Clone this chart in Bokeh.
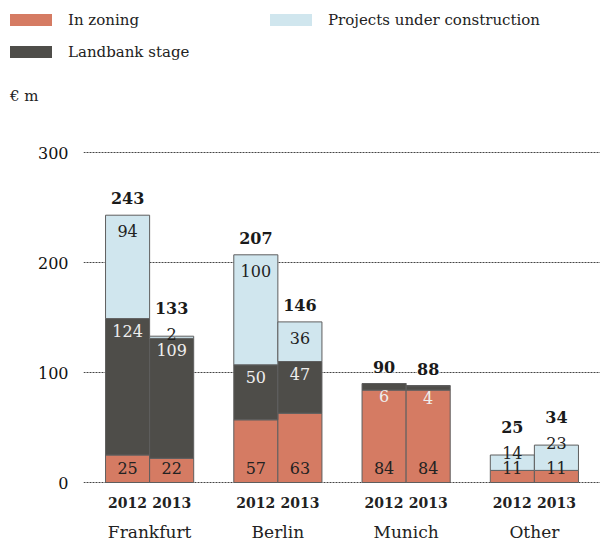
from bokeh.plotting import figure
from bokeh.layouts import column
from bokeh.models import (ColumnDataSource, FactorRange, Range1d, FixedTicker,
                          LabelSet, Div)
from bokeh.core.properties import value
from bokeh.embed import file_html
from bokeh.resources import INLINE

# ---------------- data ----------------
cities = ["Frankfurt", "Berlin", "Munich", "Other"]
years = ["2012", "2013"]
in_zoning = [25, 22, 57, 63, 84, 84, 11, 11]
landbank = [124, 109, 50, 47, 6, 4, 0, 0]
projects = [94, 2, 100, 36, 0, 0, 14, 23]
totals = [243, 133, 207, 146, 90, 88, 25, 34]
y_ticks = [0, 100, 200, 300]
series_names = ["In zoning", "Landbank stage", "Projects under construction"]
unit_label = "€ m"

# ---------------- style ----------------
colors = ["#D57B63", "#4E4D49", "#D0E6EE"]
FONT = "DejaVu Serif"
TXT = "#222222"
PX_PER_UNIT = 1.1
TOP_H = 130
FRAME_H = 355
FRAME_W = 517
LEFT = 83
y0 = -3 / PX_PER_UNIT
y1 = y0 + FRAME_H / PX_PER_UNIT

factors = [(c, yr) for c in cities for yr in years]
src = ColumnDataSource(dict(x=factors, zoning=in_zoning, landbank=landbank,
                            projects=projects))

x_range = FactorRange(*factors, factor_padding=0.0, group_padding=0.91,
                      range_padding=0.5, range_padding_units="absolute")

p = figure(x_range=x_range, y_range=Range1d(y0, y1),
           frame_width=FRAME_W, frame_height=FRAME_H,
           min_border_left=LEFT, min_border_right=0, min_border_top=0,
           min_border_bottom=0, output_backend="svg", toolbar_location=None,
           background_fill_color="white", border_fill_color="white")
p.outline_line_color = None

rs = p.vbar_stack(["zoning", "landbank", "projects"], x="x", width=1.0,
                  source=src, fill_color=colors, line_color="#5e5e5e",
                  line_width=1)

# ---------------- axes / grid ----------------
p.yaxis.ticker = FixedTicker(ticks=y_ticks)
p.yaxis.axis_line_color = None
p.yaxis.major_tick_line_color = None
p.yaxis.minor_tick_line_color = None
p.yaxis.major_tick_out = 0
p.yaxis.major_tick_in = 0
p.yaxis.major_label_standoff = 15
p.yaxis.major_label_text_font = FONT
p.yaxis.major_label_text_font_size = "16px"
p.yaxis.major_label_text_color = "#111111"

p.ygrid.grid_line_color = "#444444"
p.ygrid.grid_line_dash = "2 1"
p.ygrid.grid_line_width = 1
p.xgrid.grid_line_color = None

p.xaxis.axis_line_color = None
p.xaxis.major_tick_line_color = None
p.xaxis.major_tick_out = 0
p.xaxis.major_tick_in = 0
p.xaxis.major_label_standoff = 11
p.xaxis.major_label_text_font = FONT
p.xaxis.major_label_text_font_size = "14px"
p.xaxis.major_label_text_font_style = "bold"
p.xaxis.major_label_text_color = TXT
p.xaxis.group_text_font = FONT
p.xaxis.group_text_font_size = "17px"
p.xaxis.group_text_font_style = "normal"
p.xaxis.group_text_color = TXT
p.xaxis.separator_line_color = None

# ---------------- value labels ----------------
def label_set(xs, ys, texts, offs, color, bold=False, bg=None):
    s = ColumnDataSource(dict(x=xs, y=ys, text=texts, off=offs))
    kw = {}
    if bg is not None:
        kw["background_fill_color"] = bg
    return LabelSet(x="x", y="y", text="text", y_offset="off", source=s,
                    text_align="center", text_baseline="middle",
                    text_font=value(FONT), text_font_size=value("16px"),
                    text_font_style="bold" if bold else "normal",
                    text_color=color, **kw)

# in zoning: near the bottom of the bar
p.add_layout(label_set(factors, [0] * len(factors),
                       [str(v) for v in in_zoning], [15] * len(factors), TXT))

# landbank: just below the segment top
lx, ly, lt = [], [], []
for f, z, l in zip(factors, in_zoning, landbank):
    if l > 0:
        lx.append(f); ly.append(z + l); lt.append(str(l))
p.add_layout(label_set(lx, ly, lt, [-12] * len(lx), "#EEEEEE"))

# projects: below the top, or on the top when the segment is thin
px_, py_, pt_, po_ = [], [], [], []
for f, t, pr in zip(factors, totals, projects):
    if pr > 0:
        px_.append(f); py_.append(t); pt_.append(str(pr))
        po_.append(-16 if pr * PX_PER_UNIT >= 32 else 2)
p.add_layout(label_set(px_, py_, pt_, po_, TXT))

# totals
to = [28 if 0 < pr * PX_PER_UNIT < 32 else 17 for pr in projects]
p.add_layout(label_set(factors, totals, [str(t) for t in totals], to, "#1a1a1a",
                       bold=True, bg="white"))

# ---------------- legend strip + unit label ----------------
legend_slots = [(10, 20), (10, 52), (270, 20)]   # (swatch left, row centre)

def legend_entry(name, color, slot):
    lx_, cy = slot
    return (f'<div style="position:absolute;left:{lx_}px;top:{cy - 6}px;'
            f'width:42px;height:12px;background:{color};"></div>'
            f'<div style="position:absolute;left:{lx_ + 58}px;top:{cy - 10}px;'
            f'line-height:20px;white-space:nowrap;">{name}</div>')

html = (f'<div style="position:relative;width:{LEFT + FRAME_W}px;height:{TOP_H}px;'
        f'font-family:\'{FONT}\';font-size:15px;color:{TXT};">'
        + "".join(legend_entry(n, c, s)
                  for n, c, s in zip(series_names, colors, legend_slots))
        + f'<div style="position:absolute;left:10px;top:86px;line-height:20px;">'
          f'{unit_label}</div></div>')

top = Div(text=html, width=LEFT + FRAME_W, height=TOP_H, margin=0)

layout = column(top, p, spacing=0)
open("out.html", "w").write(file_html(layout, INLINE))
